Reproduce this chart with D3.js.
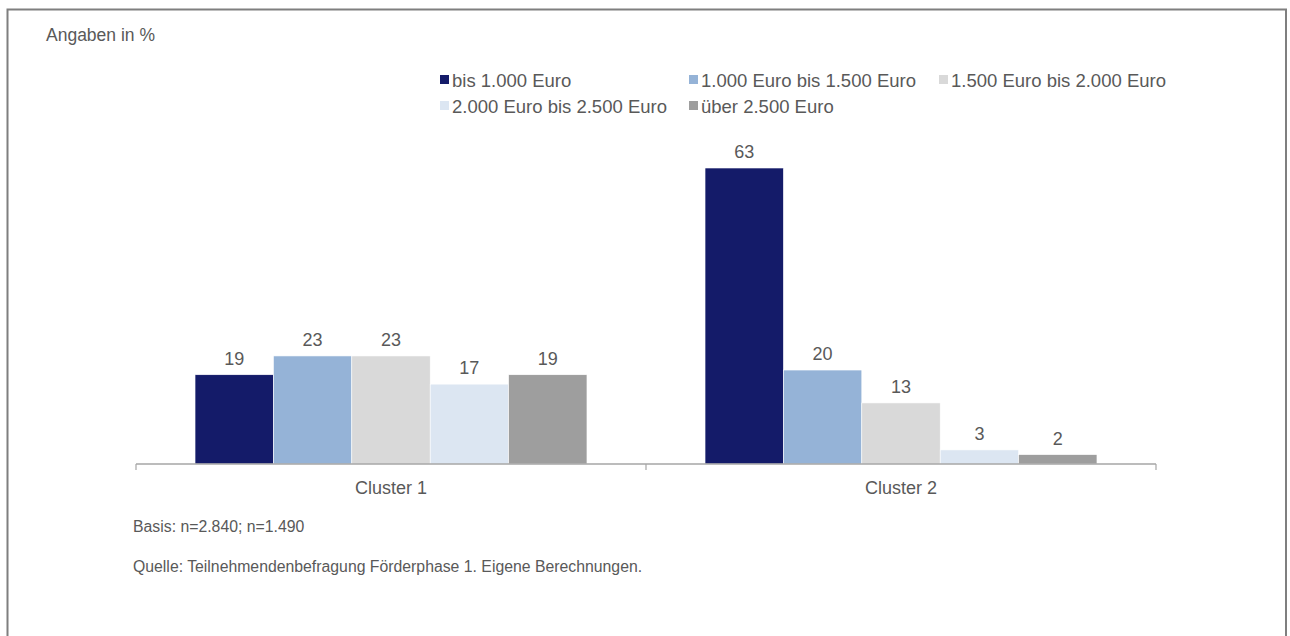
<!DOCTYPE html>
<html>
<head>
<meta charset="utf-8">
<script src="https://cdn.jsdelivr.net/npm/d3@7"></script>
<style>
  body { margin: 0; background: #fff; }
  svg { display: block; font-family: "Liberation Sans", Arial, sans-serif; }
</style>
</head>
<body>
<svg id="chart" width="1290" height="636"></svg>
<script>
var clusters = ["Cluster 1", "Cluster 2"];
var seriesNames = ["bis 1.000 Euro", "1.000 Euro bis 1.500 Euro", "1.500 Euro bis 2.000 Euro",
                   "2.000 Euro bis 2.500 Euro", "über 2.500 Euro"];
var seriesColors = ["#141b69", "#95b3d7", "#d9d9d9", "#dce6f2", "#9e9e9e"];
var cluster1Values = [19, 23, 23, 17, 19];
var cluster2Values = [63, 20, 13, 3, 2];

var valuesByCluster = [cluster1Values, cluster2Values];

var svg = d3.select("svg#chart"),
    baseY = 464;

var textColor = "#595959";

// frame
svg.append("rect")
    .attr("x", 7.5).attr("y", 9.5)
    .attr("width", 1278.5).attr("height", 640)
    .attr("fill", "none")
    .attr("stroke", "#7f7f7f")
    .attr("stroke-width", 2);

svg.append("text")
    .attr("x", 46).attr("y", 41)
    .attr("font-size", 17.5)
    .attr("fill", textColor)
    .text("Angaben in %");

var x0 = d3.scaleBand().domain(clusters).range([136, 1156]);
var x1 = d3.scaleBand().domain(seriesNames).range([0, x0.bandwidth()]).paddingOuter(0.753);
var y = d3.scaleLinear().domain([0, 63]).range([baseY, 168]);

var groups = svg.selectAll(".group")
    .data(clusters)
  .enter().append("g")
    .attr("class", "group")
    .attr("transform", function(d) { return "translate(" + x0(d) + ",0)"; });

groups.selectAll("rect")
    .data(function(d, i) {
      return valuesByCluster[i].map(function(v, j) { return {name: seriesNames[j], value: v, color: seriesColors[j]}; });
    })
  .enter().append("rect")
    .attr("x", function(d) { return x1(d.name); })
    .attr("width", x1.bandwidth())
    .attr("y", function(d) { return y(d.value); })
    .attr("height", function(d) { return baseY - y(d.value); })
    .attr("fill", function(d) { return d.color; })
    .attr("stroke", "#fff")
    .attr("stroke-width", 0.6);

groups.selectAll("text.val")
    .data(function(d, i) {
      return valuesByCluster[i].map(function(v, j) { return {name: seriesNames[j], value: v}; });
    })
  .enter().append("text")
    .attr("class", "val")
    .attr("x", function(d) { return x1(d.name) + x1.bandwidth() / 2; })
    .attr("y", function(d) { return y(d.value) - 10; })
    .attr("text-anchor", "middle")
    .attr("font-size", 18)
    .attr("fill", textColor)
    .text(function(d) { return d.value; });

// x axis
var axis = svg.append("g")
    .attr("transform", "translate(0," + baseY + ")")
    .call(d3.axisBottom(x0).tickSize(0).tickPadding(17));
axis.select(".domain").attr("stroke", "#a6a6a6").attr("stroke-width", 1.5)
    .attr("d", "M136,0H1156");
axis.selectAll("text")
    .attr("font-size", 18)
    .attr("font-family", "Liberation Sans, Arial, sans-serif")
    .attr("fill", textColor);

// group separators
var edges = [x0.range()[0]].concat(clusters.map(function(c) { return x0(c) + x0.bandwidth(); }));
svg.selectAll(".sep")
    .data(edges)
  .enter().append("line")
    .attr("x1", function(d) { return d; }).attr("x2", function(d) { return d; })
    .attr("y1", baseY).attr("y2", baseY + 6)
    .attr("stroke", "#a6a6a6").attr("stroke-width", 1.2);

// legend
var legendPos = [[440, 80], [689, 80], [939, 80], [440, 106], [689, 106]];
var legend = svg.selectAll(".legend")
    .data(seriesNames)
  .enter().append("g")
    .attr("class", "legend")
    .attr("transform", function(d, i) { return "translate(" + legendPos[i][0] + "," + legendPos[i][1] + ")"; });

legend.append("rect")
    .attr("x", 0).attr("y", -5)
    .attr("width", 9).attr("height", 9)
    .attr("fill", function(d, i) { return seriesColors[i]; });

legend.append("text")
    .attr("x", 12).attr("y", 6.5)
    .attr("font-size", 18.5)
    .attr("fill", textColor)
    .text(function(d) { return d; });

// notes
svg.append("text")
    .attr("x", 133).attr("y", 532)
    .attr("font-size", 15.8)
    .attr("fill", textColor)
    .text("Basis: n=2.840; n=1.490");

svg.append("text")
    .attr("x", 133).attr("y", 572)
    .attr("font-size", 15.8)
    .attr("fill", textColor)
    .text("Quelle: Teilnehmendenbefragung Förderphase 1. Eigene Berechnungen.");
</script>
</body>
</html>
